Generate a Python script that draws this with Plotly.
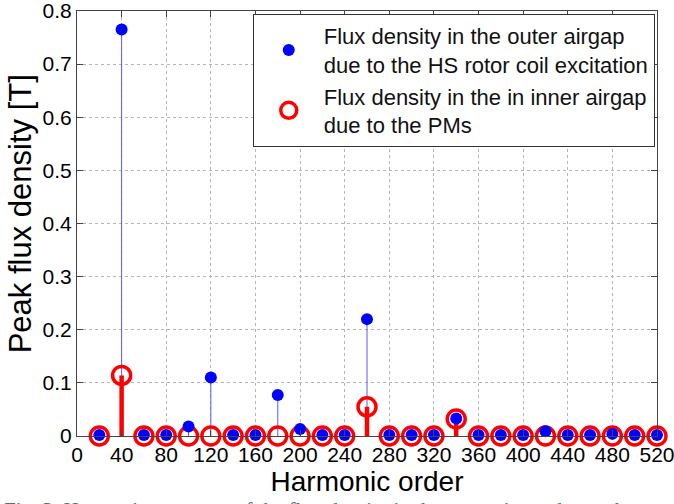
import plotly.graph_objects as go

# Harmonic orders and peak flux densities [T]
harmonics = [20, 40, 60, 80, 100, 120, 140, 160, 180, 200, 220, 240, 260,
             280, 300, 320, 340, 360, 380, 400, 420, 440, 460, 480, 500, 520]
outer_hs_coil = [0.002, 0.765, 0.002, 0.002, 0.018, 0.110, 0.002, 0.002, 0.077,
                 0.013, 0.002, 0.002, 0.220, 0.002, 0.002, 0.002, 0.033, 0.002,
                 0.002, 0.002, 0.009, 0.002, 0.002, 0.004, 0.002, 0.002]
inner_pm = [0.0, 0.114, 0.0, 0.0, 0.0, 0.0, 0.0, 0.0, 0.0, 0.0, 0.0, 0.0, 0.055,
            0.0, 0.0, 0.0, 0.032, 0.0, 0.0, 0.0, 0.0, 0.0, 0.0, 0.0, 0.0, 0.0]

x_ticks = list(range(0, 521, 40))
y_ticks = [0, 0.1, 0.2, 0.3, 0.4, 0.5, 0.6, 0.7, 0.8]
y_tick_text = ["0", "0.1", "0.2", "0.3", "0.4", "0.5", "0.6", "0.7", "0.8"]

FONT = "Liberation Sans, Arial, sans-serif"


def stems(xs, ys):
    sx, sy = [], []
    for xv, yv in zip(xs, ys):
        sx += [xv, xv, None]
        sy += [0, yv, None]
    return sx, sy


fig = go.Figure()

bx, by = stems(harmonics, outer_hs_coil)
fig.add_trace(go.Scatter(x=bx, y=by, mode="lines", showlegend=False,
                         line=dict(color="rgb(90,90,255)", width=1),
                         hoverinfo="skip"))

rx, ry = stems(harmonics, inner_pm)
fig.add_trace(go.Scatter(x=rx, y=ry, mode="lines", showlegend=False,
                         line=dict(color="rgb(255,0,0)", width=4.5),
                         hoverinfo="skip"))

fig.add_trace(go.Scatter(
    x=harmonics, y=inner_pm, mode="markers", cliponaxis=False,
    name="Flux density in the in inner airgap<br>due to the PMs",
    marker=dict(symbol="circle-open", size=18, color="rgb(255,0,0)",
                line=dict(width=3.5, color="rgb(255,0,0)"))))

fig.add_trace(go.Scatter(
    x=harmonics, y=outer_hs_coil, mode="markers", cliponaxis=False,
    name="Flux density in the outer airgap<br>due to the HS rotor coil excitation",
    marker=dict(symbol="circle", size=12, color="rgb(0,0,255)")))

axis_common = dict(
    showline=True, linecolor="#444", linewidth=1, mirror="ticks",
    ticks="inside", ticklen=6, tickcolor="#444",
    showgrid=True, gridcolor="#b5b5b5", griddash="dot", gridwidth=1,
    zeroline=False, ticklabeloverflow="allow", automargin=False,
    tickfont=dict(family=FONT, size=21, color="black"),
)

fig.update_xaxes(range=[0, 520], tickvals=x_ticks,
                 title=dict(text="Harmonic order",
                            font=dict(family=FONT, size=28, color="black"),
                            standoff=6),
                 **axis_common)
fig.update_yaxes(range=[0, 0.8], tickvals=y_ticks, ticktext=y_tick_text,
                 **axis_common)

# y-axis title, set slightly above the centre of the plot area
fig.add_annotation(
    text="Peak flux density [T]", textangle=-90,
    xref="paper", yref="paper", x=-0.098, y=0.522,
    xanchor="center", yanchor="middle", showarrow=False,
    font=dict(family=FONT, size=31, color="black"))

fig.add_annotation(
    text="Fig. 3. Harmonic spectrum of the flux density in the outer airgap due to the",
    xref="paper", yref="paper", x=-0.13, y=-0.14, xanchor="left", yanchor="top",
    showarrow=False, font=dict(family="Liberation Serif, serif", size=21, color="#666"))

fig.update_layout(
    width=674, height=504,
    margin=dict(l=77, r=17, t=11, b=68),
    plot_bgcolor="white", paper_bgcolor="white",
    legend=dict(x=0.303, y=0.993, xanchor="left", yanchor="top",
                bgcolor="white", bordercolor="#333", borderwidth=1,
                font=dict(family=FONT, size=22, color="#111"),
                itemwidth=60,
                traceorder="reversed", tracegroupgap=0),
)

fig.write_html("out.html")
